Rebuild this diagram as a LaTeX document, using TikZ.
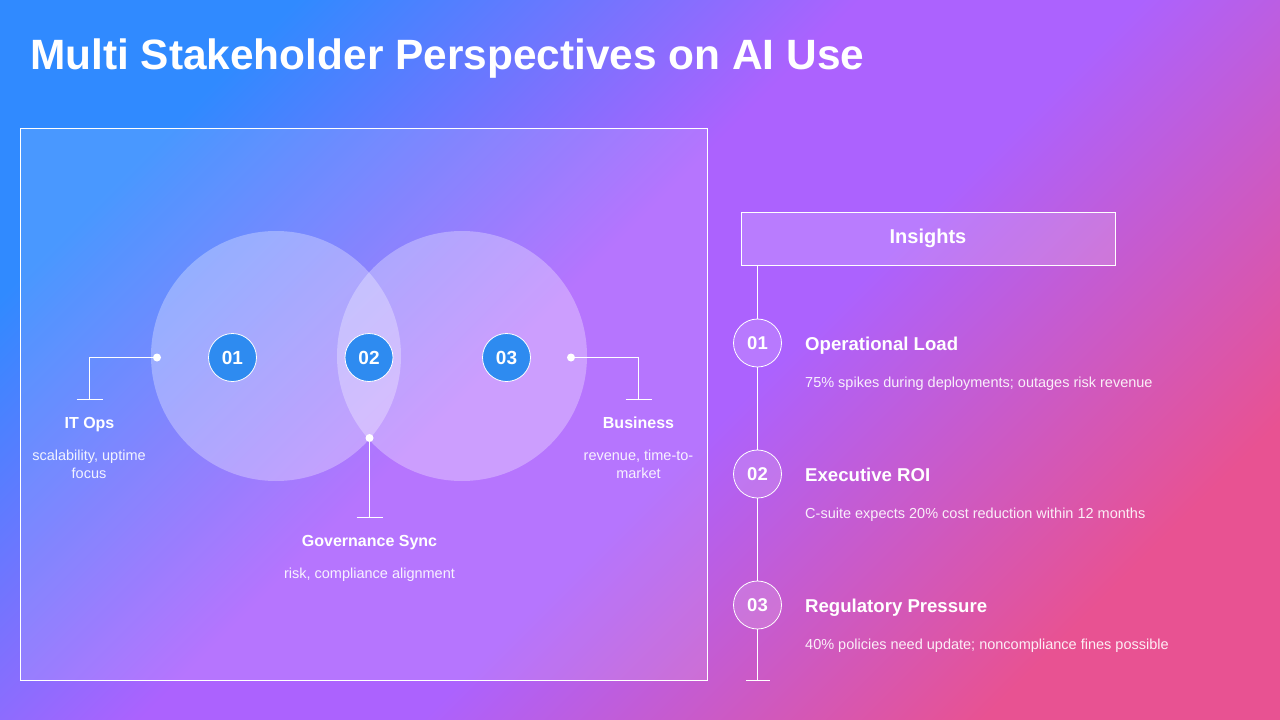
\documentclass[tikz,border=0pt]{standalone}
\usepackage{fontspec}
\setmainfont{Liberation Sans}
\usetikzlibrary{positioning}
\definecolor{bgblue}{RGB}{48,138,255}
\definecolor{bgpurple}{RGB}{172,98,254}
\definecolor{bgpink}{RGB}{232,82,146}
\definecolor{badgeblue}{RGB}{46,139,240}
\pgfdeclarehorizontalshading{slidebg}{100bp}{color(0bp)=(bgblue); color(25bp)=(bgblue);
  color(45bp)=(bgpurple); color(55bp)=(bgpurple); color(75bp)=(bgpink); color(100bp)=(bgpink)}
\begin{document}
\begin{tikzpicture}[x=1pt, y=-1pt,
  wire/.style={draw=white, line width=0.8pt},
  lobe/.style={circle, fill=white, fill opacity=0.3, minimum size=250pt, inner sep=0pt},
  badge/.style={circle, draw=white, line width=0.8pt, fill=badgeblue, minimum size=48pt,
    inner sep=0pt, text=white, font=\fontsize{19}{22}\selectfont\bfseries},
  ring/.style={circle, draw=white, line width=0.8pt, fill=white, fill opacity=0.15,
    text opacity=1, minimum size=48pt, inner sep=0pt, text=white,
    font=\fontsize{18.5}{22}\selectfont\bfseries},
  pin/.style={circle, fill=white, minimum size=8pt, inner sep=0pt},
  tag/.style={text=white, anchor=base, inner sep=0pt, font=\fontsize{16}{19}\selectfont\bfseries},
  note/.style={text=white, text opacity=0.9, align=center, anchor=base, inner sep=0pt,
    font=\fontsize{14.5}{18}\selectfont},
  head/.style={text=white, anchor=base west, inner sep=0pt, font=\fontsize{18.6}{22}\selectfont\bfseries},
  detail/.style={text=white, text opacity=0.9, anchor=base west, inner sep=0pt,
    font=\fontsize{14.5}{17}\selectfont}]

% background
\shade[shading=slidebg, shading angle=-45] (0,0) rectangle (1280,720);
\useasboundingbox (0,0) rectangle (1280,720);

\node[text=white, anchor=base west, inner sep=0pt, font=\fontsize{42.4}{50}\selectfont\bfseries]
  (title) at (30,69) {Multi Stakeholder Perspectives on AI Use};

% Venn panel
\draw[wire, fill=white, fill opacity=0.12] (20,128) rectangle (707,680);
\node[lobe] (lobeL) at (276,356) {};
\node[lobe] (lobeR) at (462,356) {};

\node[badge] (b1) at (232.5,357.5) {01};
\node[badge] (b2) at (369,357.5) {02};
\node[badge] (b3) at (506.5,357.5) {03};

\node[pin] (pL) at (157,357.5) {};
\node[pin] (pR) at (571,357.5) {};
\node[pin] (pM) at (369.5,438) {};
\coordinate (eL) at (89.5,399);
\coordinate (eR) at (638.5,399);
\coordinate (eM) at (369.5,517);

\draw[wire] (pL) -| (eL);
\draw[wire] (pR) -| (eR);
\draw[wire] (pM) -- (eM);
\foreach \e in {eL,eR,eM}
  \draw[wire] ([xshift=-13pt]\e) -- ([xshift=13pt]\e);

% labels (base = last line)
\node[tag] (itops) at (89.5,428) {IT Ops};
\node[note] (itnote) at (89,478) {scalability, uptime\\focus};
\node[tag] (biz) at (638.5,428) {Business};
\node[note] (biznote) at (638.5,478) {revenue, time-to-\\market};
\node[tag] (gov) at (369.5,546) {Governance Sync};
\node[note] (govnote) at (369.5,578) {risk, compliance alignment};

% Insights timeline
\node[draw=white, line width=0.8pt, fill=white, fill opacity=0.17, text opacity=1,
  minimum width=374pt, minimum height=53pt, text=white,
  font=\fontsize{20}{24}\selectfont\bfseries] (ins) at (928,238.5) {Insights};
\coordinate (tTop) at (757.5,265);
\coordinate (tEnd) at (757.5,680);

\node[ring] (s1) at (757.5,343) {01};
\node[ring] (s2) at (757.5,474) {02};
\node[ring] (s3) at (757.5,605) {03};

\draw[wire] (tTop) -- (s1);
\draw[wire] (s1) -- (s2);
\draw[wire] (s2) -- (s3);
\draw[wire] (s3) -- (tEnd);
\draw[wire] ([xshift=-11.5pt]tEnd) -- ([xshift=12.5pt]tEnd);

\node[head] (h1) at (805,350) {Operational Load};
\node[detail] (d1) at (805,387) {75\% spikes during deployments; outages risk revenue};
\node[head] (h2) at (805,481.5) {Executive ROI};
\node[detail] (d2) at (805,518.5) {C-suite expects 20\% cost reduction within 12 months};
\node[head] (h3) at (805,612.5) {Regulatory Pressure};
\node[detail] (d3) at (805,649) {40\% policies need update; noncompliance fines possible};

\end{tikzpicture}
\end{document}
